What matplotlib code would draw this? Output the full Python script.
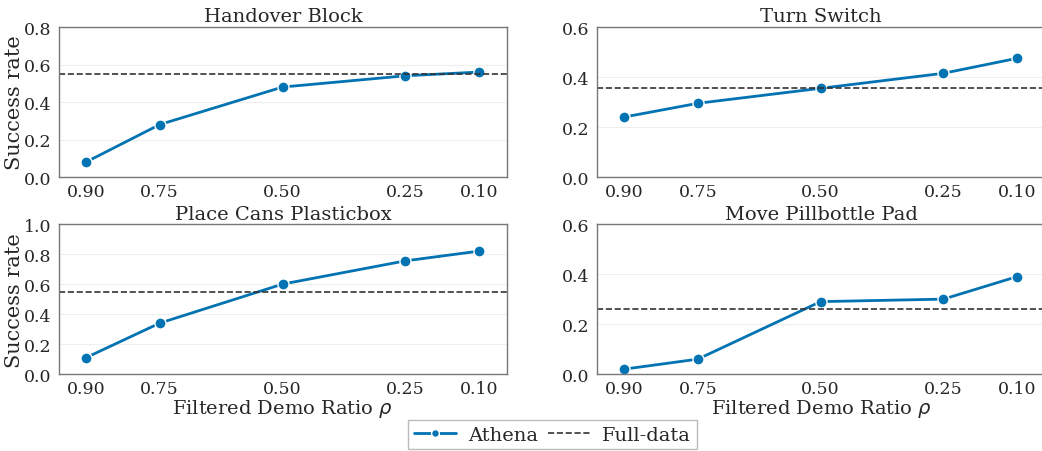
import numpy as np
import matplotlib
matplotlib.use("Agg")
import matplotlib.pyplot as plt
import seaborn as sns

ratios = [0.90, 0.75, 0.50, 0.25, 0.10]
ratio_labels = ["0.90", "0.75", "0.50", "0.25", "0.10"]

titles = ["Handover Block", "Turn Switch", "Place Cans Plasticbox", "Move Pillbottle Pad"]
athena = [
    [0.08, 0.28, 0.48, 0.54, 0.56],
    [0.24, 0.295, 0.355, 0.415, 0.475],
    [0.11, 0.34, 0.60, 0.755, 0.82],
    [0.02, 0.06, 0.29, 0.30, 0.39],
]
full_data = [0.55, 0.355, 0.55, 0.26]
ymax = [0.8, 0.6, 1.0, 0.6]

sns.set_style("whitegrid")
plt.rcParams['font.family'] = ['DejaVu Serif']

fig = plt.figure(figsize=(10.42, 4.52), dpi=100)
boxes = [
    [0.0566, 0.606, 0.43, 0.332],
    [0.573, 0.606, 0.43, 0.332],
    [0.0566, 0.170, 0.43, 0.332],
    [0.573, 0.170, 0.43, 0.332],
]
blue = "#0173B2"
for i in range(4):
    ax = fig.add_axes(boxes[i])
    l1, = ax.plot(ratios, athena[i], color=blue, lw=2, marker="o", ms=8,
                  mec="white", mew=1, label="Athena")
    l2 = ax.axhline(full_data[i], color="#333333", ls="--", lw=1.2, label="Full-data")
    ax.set_xlim(0.955, 0.043)
    ax.set_ylim(0, ymax[i])
    ax.set_yticks(np.arange(0, ymax[i] + 0.001, 0.2))
    ax.set_xticks(ratios)
    ax.set_xticklabels(ratio_labels)
    ax.grid(axis="x", visible=False)
    ax.grid(axis="y", color="#eeeeee", lw=0.8)
    ax.tick_params(axis="y", labelsize=12.5, pad=2)
    ax.tick_params(axis="x", labelsize=12.5, pad=1)
    ax.set_title(titles[i], fontsize=14, pad=4)
    for s in ax.spines.values():
        s.set_color("#777777")
        s.set_linewidth(1)
    if i % 2 == 0:
        ax.set_ylabel("Success rate", fontsize=15)
        ax.yaxis.set_label_coords(-0.077, 0.5)
    if i >= 2:
        ax.set_xlabel(r"Filtered Demo Ratio $\rho$", fontsize=14, labelpad=0)

fig.legend(handles=[l1, l2], loc="upper center", bbox_to_anchor=(0.53, 0.069), ncol=2,
           fontsize=14, frameon=True, fancybox=False, edgecolor="#aaaaaa",
           handlelength=2.2, handletextpad=0.6, columnspacing=0.5, borderpad=0.3,
           borderaxespad=0, markerscale=0.7)

fig.savefig("out.png", dpi=100)
